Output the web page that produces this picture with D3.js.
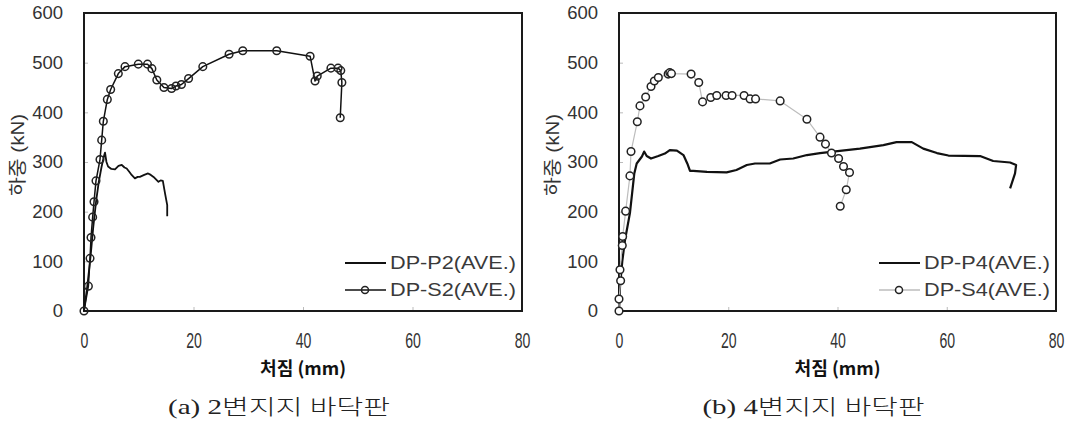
<!DOCTYPE html>
<html>
<head>
<meta charset="utf-8">
<script src="https://cdn.jsdelivr.net/npm/d3@7"></script>
<style>
  html, body { margin: 0; padding: 0; background: #fff; }
  svg { display: block; }
  .tick text { font-family: "Liberation Sans", Arial, sans-serif; }
</style>
</head>
<body>
<svg id="chart" width="1068" height="427"></svg>
<script>
// Load–deflection data, deflection in mm, load in kN
const xTicks = [0, 20, 40, 60, 80];
const yTicks = [0, 100, 200, 300, 400, 500, 600];

// (a) two-edge supported slabs
const p2 = [[0,0],[0.6,50],[1.2,110],[1.7,170],[2.2,220],[2.7,260],[3.2,290],[3.6,310],[3.84,319],
  [4.1,300],[4.4,291],[5.0,286],[5.66,285],[6.3,292],[6.9,294],[7.4,289],[7.8,287],[8.3,280],[8.7,274],
  [9.3,267],[9.8,270],[10.2,270],[11.0,274],[11.7,277],[12.2,274],[12.7,270],[13.6,260],[14.0,263],
  [14.4,262],[14.8,237],[15.2,213],[15.2,191]];
const s2 = [[0,0],[0.8,50],[1.1,106],[1.28,148],[1.58,189],[1.83,220],[2.19,262],[2.92,305],[3.23,344],
  [3.53,382],[4.26,426],[4.87,446],[6.27,478],[7.49,492],[9.92,497],[11.6,497],[12.4,488],[13.3,465],
  [14.6,450],[16.0,448],[16.8,453],[17.8,456],[19.1,468],[21.7,492],[26.5,517],[29.0,524],[35.2,524],
  [41.3,513],[42.2,463],[42.6,473],[45.1,489],[46.4,489],[46.9,484],[47.1,460],[46.8,389]];

// (b) four-edge supported slabs
const p4 = [[0,0],[0.18,49],[0.6,100],[1.1,143],[2.0,197],[2.4,237],[2.8,277],[3.24,297],[4.2,311],
  [4.6,321],[5.07,312],[5.86,307],[7.2,312],[8.4,317],[9.3,324],[10.6,323],[11.8,314],[12.5,297],
  [13.0,282],[13.6,282],[16.1,280],[19.7,279],[21.5,284],[23.4,294],[24.9,297],[27.6,297],[29.5,305],
  [31.9,307],[34.4,314],[36.8,318],[39.2,321],[44.1,327],[48.4,334],[50.8,340],[53.6,340],[55.7,327],
  [58.2,318],[60.3,313],[66.1,312],[68.5,302],[71.6,299],[72.7,294],[72.5,277],[71.6,247]];
const s4 = [[0,0],[0,24],[0.3,61],[0.18,83],[0.6,132],[0.67,150],[1.22,201],[2.0,272],[2.2,321],
  [3.35,381],[3.84,413],[4.88,431],[5.86,452],[6.47,463],[7.2,470],[9.0,477],[9.3,480],[9.6,478],
  [13.2,477],[14.6,460],[15.3,421],[16.8,430],[17.9,434],[19.6,434],[20.7,434],[22.9,434],[24.0,427],
  [25.0,427],[29.5,423],[34.4,386],[36.8,350],[37.8,336],[38.9,318],[40.2,307],[41.1,291],[42.2,279],
  [41.6,244],[40.5,211]];

const xLabel = "처짐 (mm)";
const yLabel = "하중 (kN)";

const panels = [
  {
    left: 84, right: 522, caption: "(a) 2변지지 바닥판",
    series: [
      { name: "DP-P2(AVE.)", data: p2, color: "#111", width: 1.8, marker: false },
      { name: "DP-S2(AVE.)", data: s2, color: "#111", width: 1.5, marker: true, mfill: "none" }
    ]
  },
  {
    left: 619, right: 1056, caption: "(b) 4변지지 바닥판",
    series: [
      { name: "DP-P4(AVE.)", data: p4, color: "#111", width: 2.2, marker: false },
      { name: "DP-S4(AVE.)", data: s4, color: "#bdbdbd", width: 1.2, marker: true, mfill: "#fff" }
    ]
  }
];

const plotTop = 13, plotBottom = 311;
const svg = d3.select("#chart");
const sansKR = '"Liberation Sans", Arial, "Noto Sans CJK KR", sans-serif';

panels.forEach(p => {
  const x = d3.scaleLinear().domain([0, 80]).range([p.left, p.right]);
  const y = d3.scaleLinear().domain([0, 600]).range([plotBottom, plotTop]);
  const g = svg.append("g");

  // y axis: inward ticks, labels on the left
  const ya = g.append("g").attr("transform", `translate(${p.left},0)`)
    .call(d3.axisLeft(y).tickValues(yTicks).tickSizeInner(-4).tickSizeOuter(0).tickPadding(21));
  ya.select(".domain").remove();
  ya.selectAll(".tick line").attr("stroke", "#bbb");
  ya.selectAll(".tick text").attr("font-size", 18.5).attr("fill", "#333");

  // x axis: inward ticks, condensed labels
  const xa = g.append("g").attr("transform", `translate(0,${plotBottom})`)
    .call(d3.axisBottom(x).tickValues(xTicks).tickSizeInner(-4).tickSizeOuter(0).tickPadding(21));
  xa.select(".domain").remove();
  xa.selectAll(".tick line").attr("stroke", "#bbb");
  xa.selectAll(".tick text").attr("font-size", 22).attr("fill", "#333")
    .attr("transform", "scale(0.64,1)");

  // frame
  g.append("rect")
    .attr("x", p.left).attr("y", plotTop)
    .attr("width", p.right - p.left).attr("height", plotBottom - plotTop)
    .attr("fill", "none").attr("stroke", "#1a1a1a").attr("stroke-width", 2);

  const line = d3.line().x(d => x(d[0])).y(d => y(d[1]));

  p.series.forEach(s => {
    g.append("path").datum(s.data)
      .attr("d", line).attr("fill", "none")
      .attr("stroke", s.color).attr("stroke-width", s.width)
      .attr("stroke-linejoin", "round");
    if (s.marker) {
      g.append("g").selectAll("circle").data(s.data).join("circle")
        .attr("cx", d => x(d[0])).attr("cy", d => y(d[1])).attr("r", 3.8)
        .attr("fill", s.mfill).attr("stroke", "#222").attr("stroke-width", 1.5);
    }
  });

  // legend, bottom right inside the frame
  const lx = p.right - 177;
  p.series.forEach((s, i) => {
    const ly = 263 + i * 27;
    g.append("line")
      .attr("x1", lx).attr("x2", lx + 41).attr("y1", ly).attr("y2", ly)
      .attr("stroke", s.color).attr("stroke-width", s.marker ? 1.5 : 2);
    if (s.marker) {
      g.append("circle").attr("cx", lx + 20).attr("cy", ly).attr("r", 3.5)
        .attr("fill", s.mfill).attr("stroke", "#222").attr("stroke-width", 1.5);
    }
    g.append("text")
      .attr("x", lx + 45).attr("y", ly).attr("dy", "0.36em")
      .attr("font-family", sansKR).attr("font-size", 18).attr("fill", "#3a3a3a")
      .attr("textLength", 126).attr("lengthAdjust", "spacingAndGlyphs")
      .text(s.name);
  });

  const cx = (p.left + p.right) / 2;

  // axis titles
  g.append("text")
    .attr("x", cx).attr("y", 369).attr("dy", "0.36em")
    .attr("text-anchor", "middle")
    .attr("font-family", '"Noto Sans CJK KR", sans-serif').attr("font-weight", "bold")
    .attr("font-size", 18).attr("fill", "#111")
    .attr("textLength", 86).attr("lengthAdjust", "spacingAndGlyphs")
    .text(xLabel);

  g.append("text")
    .attr("transform", `translate(${p.left - 66},155) rotate(-90)`)
    .attr("text-anchor", "middle").attr("dy", "0.36em")
    .attr("font-family", sansKR).attr("font-size", 18).attr("fill", "#333")
    .attr("textLength", 82).attr("lengthAdjust", "spacingAndGlyphs")
    .text(yLabel);

  // panel caption
  g.append("text")
    .attr("x", cx - 24).attr("y", 406).attr("dy", "0.36em")
    .attr("text-anchor", "middle")
    .attr("font-family", '"Liberation Serif", "Noto Sans CJK KR", serif')
    .attr("font-weight", 300)
    .attr("font-size", 21).attr("fill", "#222")
    .attr("textLength", 222).attr("lengthAdjust", "spacingAndGlyphs")
    .text(p.caption);
});
</script>
</body>
</html>
